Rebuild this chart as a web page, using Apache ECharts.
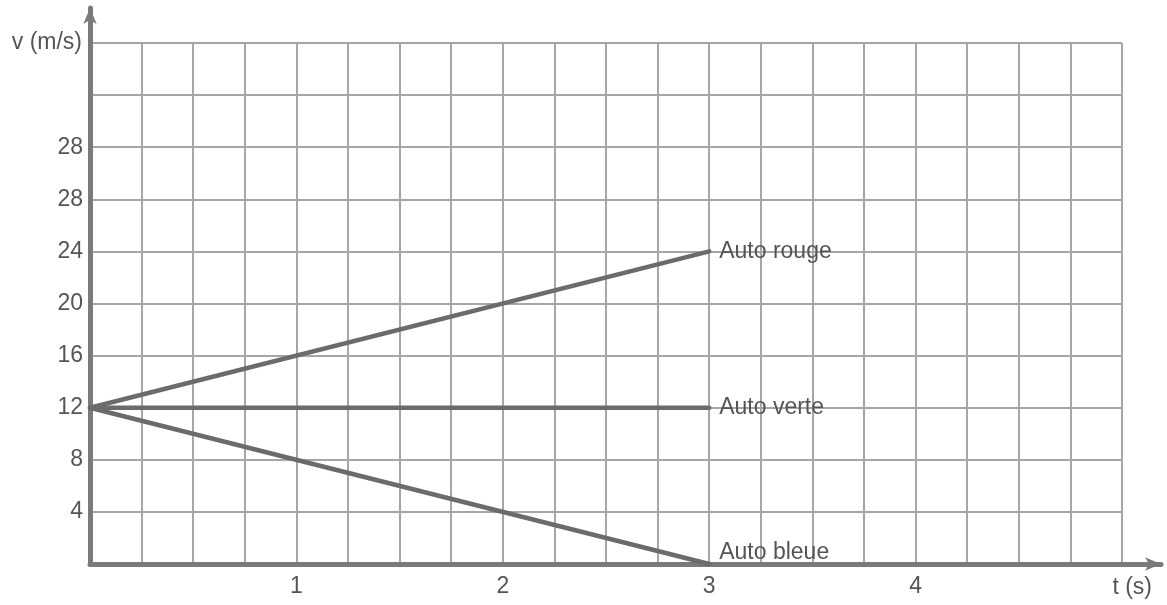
<!DOCTYPE html>
<html>
<head>
<meta charset="utf-8">
<script src="https://cdn.jsdelivr.net/npm/echarts@6/dist/echarts.min.js"></script>
<style>
  html, body { margin: 0; padding: 0; background: #fff; }
  #chart { width: 1167px; height: 605px; }
</style>
</head>
<body>
<div id="chart"></div>
<script>
// temps (s) aux deux extremites des droites
var timeS = [0, 3];
var autoRouge = [12, 24];
var autoVerte = [12, 12];
var autoBleue = [12, 0];
var seriesNames = ['Auto rouge', 'Auto verte', 'Auto bleue'];

// etiquettes des graduations (l'original repete "28")
var yTickLabels = ['', '4', '8', '12', '16', '20', '24', '28', '28', '', ''];
var xTickLabels = ['1', '2', '3', '4'];

var gray = '#6b6b6b';
var textColor = '#555';
var font = "'Liberation Sans', Arial, sans-serif";
var fs = 23;

function pairs(xs, ys) {
    return xs.map(function(x, i) { return [x, ys[i]]; });
}

var chart = echarts.init(document.getElementById('chart'));

var lineBase = {
    type: 'line',
    xAxisIndex: 0,
    yAxisIndex: 0,
    showSymbol: false,
    symbol: 'none',
    lineStyle: { color: gray, width: 4.5, cap: 'round' },
    endLabel: {
        show: true,
        formatter: '{a}',
        color: textColor,
        fontSize: fs,
        fontFamily: font,
        distance: 10
    },
    animation: false
};

var option = {
    backgroundColor: '#fff',
    grid: [
        { left: 90, right: 45, top: 43, bottom: 41 },
        { left: 90, right: 6, top: 8, bottom: 41 }
    ],
    xAxis: [
        {
            gridIndex: 0,
            type: 'value',
            min: 0,
            max: 5,
            interval: 0.25,
            axisLine: { show: false },
            axisTick: { show: false },
            splitLine: { show: true, lineStyle: { color: '#a6a6a6', width: 2 } },
            axisLabel: {
                margin: 11,
                color: textColor,
                fontSize: fs,
                fontFamily: font,
                formatter: function(v) {
                    var i = xTickLabels.indexOf(String(v));
                    return i >= 0 ? xTickLabels[i] : '';
                }
            }
        },
        {
            gridIndex: 1,
            type: 'value',
            min: 0,
            max: 1,
            axisLine: {
                show: true,
                symbol: ['none', 'arrow'],
                symbolSize: [10, 16],
                lineStyle: { color: '#7a7a7a', width: 5 }
            },
            axisTick: { show: false },
            axisLabel: { show: false },
            splitLine: { show: false },
            name: 't (s)',
            nameLocation: 'end',
            nameGap: 0,
            nameTextStyle: {
                color: textColor,
                fontSize: fs,
                fontFamily: font,
                align: 'right',
                verticalAlign: 'top',
                padding: [12, 9, 0, 0]
            }
        }
    ],
    yAxis: [
        {
            gridIndex: 0,
            type: 'value',
            min: 0,
            max: 40,
            interval: 4,
            axisLine: { show: false },
            axisTick: { show: false },
            splitLine: { show: true, lineStyle: { color: '#a6a6a6', width: 2 } },
            axisLabel: {
                margin: 7,
                color: textColor,
                fontSize: fs,
                fontFamily: font,
                formatter: function(v) {
                    return yTickLabels[Math.round(v / 4)] || '';
                }
            },
            name: 'v (m/s)',
            nameLocation: 'end',
            nameGap: 0,
            nameTextStyle: {
                color: textColor,
                fontSize: fs,
                fontFamily: font,
                align: 'right',
                verticalAlign: 'middle',
                padding: [0, 8, 10, 0]
            }
        },
        {
            gridIndex: 1,
            type: 'value',
            min: 0,
            max: 1,
            axisLine: {
                show: true,
                symbol: ['none', 'arrow'],
                symbolSize: [10, 16],
                lineStyle: { color: '#7a7a7a', width: 5 }
            },
            axisTick: { show: false },
            axisLabel: { show: false },
            splitLine: { show: false }
        }
    ],
    series: [
        Object.assign({}, lineBase, { name: seriesNames[0], data: pairs(timeS, autoRouge) }),
        Object.assign({}, lineBase, { name: seriesNames[1], data: pairs(timeS, autoVerte) }),
        Object.assign({}, lineBase, {
            name: seriesNames[2],
            data: pairs(timeS, autoBleue),
            endLabel: Object.assign({}, lineBase.endLabel, { offset: [0, -11] })
        })
    ]
};

chart.setOption(option);
</script>
</body>
</html>
